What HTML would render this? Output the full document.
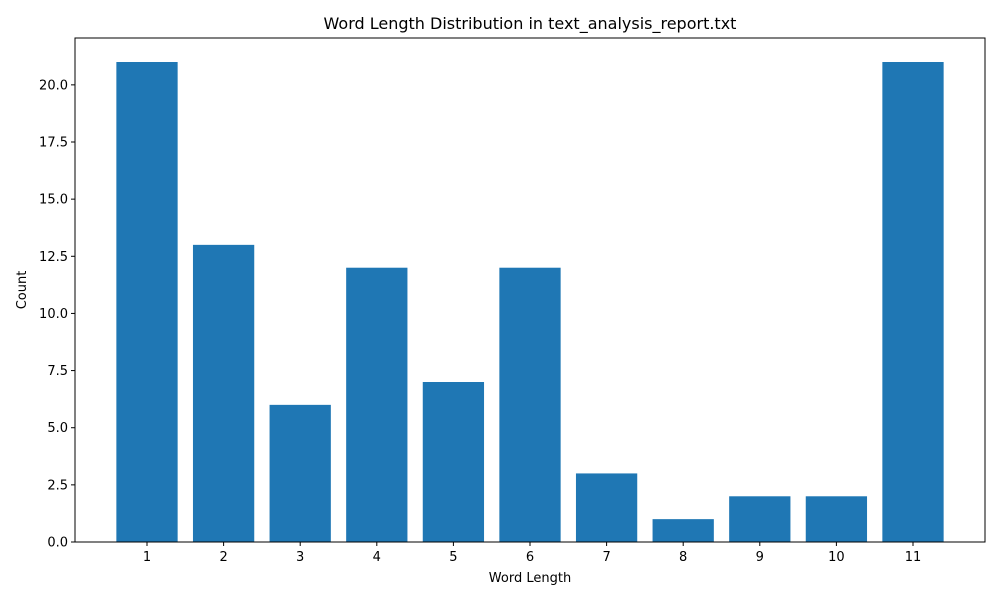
<!DOCTYPE html>
<html><head><meta charset="utf-8"><style>
body{margin:0;background:#fff;}
svg{display:block;font-family:"DejaVu Sans","Liberation Sans",sans-serif;}
</style></head><body>
<svg id="chart" width="1000" height="600">
<rect width="1000" height="600" fill="#fff"/>
<text x="530" y="29" text-anchor="middle" font-size="16">Word Length Distribution in text_analysis_report.txt</text>
<g id="bars"></g>
<g id="axes"></g>
<text x="530" y="582" text-anchor="middle" font-size="13">Word Length</text>
<text transform="translate(26,290) rotate(-90)" text-anchor="middle" font-size="13">Count</text>
</svg>
<script>
const categories = [1,2,3,4,5,6,7,8,9,10,11];
const counts = [21,13,6,12,7,12,3,1,2,2,21];
const yTicks = [0,2.5,5,7.5,10,12.5,15,17.5,20];
const yTickLabels = ["0.0","2.5","5.0","7.5","10.0","12.5","15.0","17.5","20.0"];

const L=75,R=985,T=38,B=542;
const ns="http://www.w3.org/2000/svg";
const xmin=0.6-0.54, xmax=11.4+0.54;
const ymax=Math.max(...counts)*1.05;
const xs=v=>L+(v-xmin)/(xmax-xmin)*(R-L);
const ys=v=>B-v/ymax*(B-T);
function mk(tag,attrs,parent){const e=document.createElementNS(ns,tag);for(const k in attrs)e.setAttribute(k,attrs[k]);parent.appendChild(e);return e;}
const bars=document.getElementById('bars'), axes=document.getElementById('axes');
categories.forEach((c,i)=>{
  const r=mk('rect',{x:xs(c-0.4),y:ys(counts[i]),width:xs(c+0.4)-xs(c-0.4),height:ys(0)-ys(counts[i]),fill:'#1f77b4'},bars);
  
  
  mk('line',{x1:xs(c),x2:xs(c),y1:B,y2:B+4,stroke:'#000','stroke-width':1},axes);
  const t=mk('text',{x:xs(c),y:B+19,'text-anchor':'middle','font-size':13},axes);
  t.textContent=c;
  
  
});
yTicks.forEach((v,i)=>{
  mk('line',{x1:L-4,x2:L,y1:ys(v),y2:ys(v),stroke:'#000','stroke-width':1},axes);
  const t=mk('text',{x:L-7,y:ys(v)+4.5,'text-anchor':'end','font-size':13},axes);
  t.textContent=yTickLabels[i];
  
  
});
const f=mk('rect',{x:L,y:T,width:R-L,height:B-T,fill:'none',stroke:'#000','stroke-width':1},axes);


</script>
</body></html>
